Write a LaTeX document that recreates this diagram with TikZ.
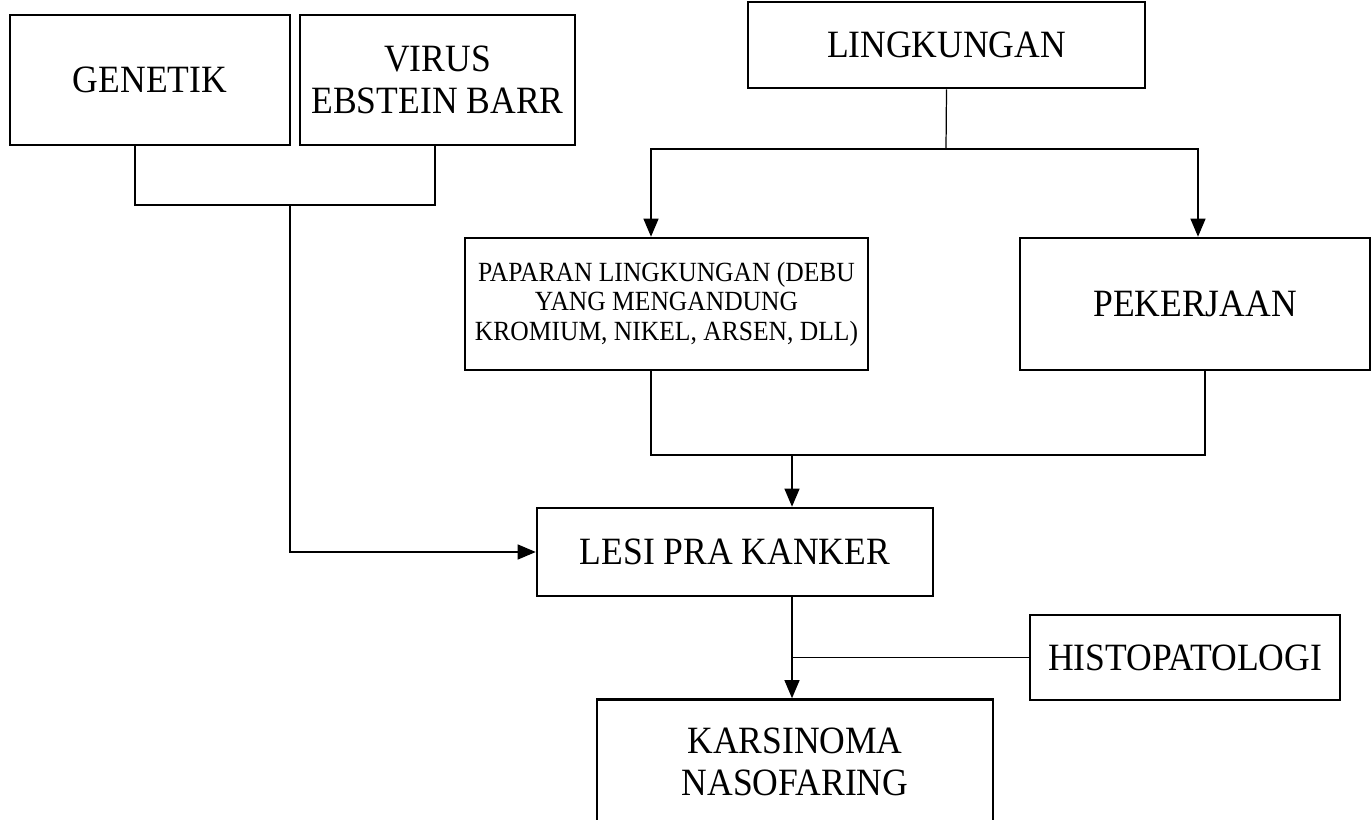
\documentclass[tikz,border=0pt]{standalone}
\usepackage{fontspec}
\setmainfont{Liberation Serif}[FakeStretch=0.92]
\usepackage{tikz}
\usetikzlibrary{arrows.meta, positioning}

\begin{document}
\begin{tikzpicture}[
  x=0.02cm, y=-0.02cm,
  box/.style={draw, line width=1.5pt, inner sep=0pt, align=center,
    font=\fontsize{22}{23.5}\selectfont},
  smallbox/.style={box, font=\fontsize{15.8}{16.8}\selectfont},
  line/.style={line width=0.7pt},
  arrow/.style={line, -{Triangle[length=0.36cm, width=0.3cm]}}
]
\useasboundingbox (0,0) rectangle (1372,820);

% Nodes
\node[box, minimum width=5.6cm, minimum height=2.6cm] (gen) at (150,80) {GENETIK};
\node[box, minimum width=5.5cm, minimum height=2.6cm] (vir) at (437.5,80) {VIRUS\\EBSTEIN BARR};
\node[box, minimum width=7.94cm, minimum height=1.72cm] (ling) at (946.5,45) {LINGKUNGAN};
\node[smallbox, minimum width=8.06cm, minimum height=2.64cm] (pap) at (666.5,304)
  {PAPARAN LINGKUNGAN (DEBU\\YANG MENGANDUNG\\KROMIUM, NIKEL, ARSEN, DLL)};
\node[box, minimum width=7cm, minimum height=2.64cm] (pek) at (1195,304) {PEKERJAAN};
\node[box, minimum width=7.92cm, minimum height=1.76cm] (lesi) at (735,552) {LESI PRA KANKER};
\node[box, minimum width=6.2cm, minimum height=1.7cm] (histo) at (1185,657.5) {HISTOPATOLOGI};
\node[box, minimum width=7.92cm, minimum height=2.5cm] (kars) at (795,762) {KARSINOMA\\NASOFARING};

% Junctions
\coordinate (jg) at (135,205);
\coordinate (jv) at (435,205);
\coordinate (jm) at (290,205);
\coordinate (jl) at (946,149);
\coordinate (jpa) at (651,149);
\coordinate (jpe) at (1198,149);
\coordinate (jpa2) at (651,455);
\coordinate (jpe2) at (1205,455);
\coordinate (jm2) at (792,455);

% Pointers
\draw[line] (gen.south -| jg) -- (jg) -- (jv) -- (vir.south -| jv);
\draw[arrow] (jm) |- (lesi.west);
\draw[line] (ling.south) -- (jl);
\draw[arrow] (jl) -- (jpa) -- (pap.north -| jpa);
\draw[arrow] (jl) -- (jpe) -- (pek.north -| jpe);
\draw[line] (pap.south -| jpa2) -- (jpa2) -- (jpe2) -- (pek.south -| jpe2);
\draw[arrow] (jm2) -- (lesi.north -| jm2);
\draw[arrow] (lesi.south -| jm2) -- (kars.north -| jm2);
\draw[line] (histo.west) -- (histo.west -| jm2);
\end{tikzpicture}
\end{document}
